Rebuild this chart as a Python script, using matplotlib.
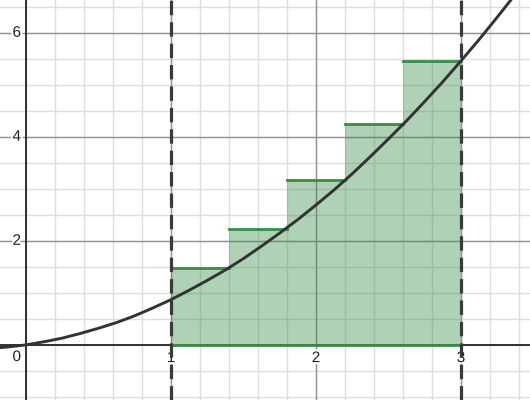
import matplotlib.pyplot as plt
import matplotlib.patheffects as pe
import numpy as np

# curve values
curve_x = [-0.25, -0.125, 0, 0.125, 0.25, 0.375, 0.5, 0.625, 0.75, 0.875, 1,
           1.125, 1.25, 1.375, 1.5, 1.625, 1.75, 1.875, 2, 2.125, 2.25, 2.375,
           2.5, 2.625, 2.75, 2.875, 3, 3.125, 3.25, 3.375, 3.5]
curve_y = [-0.07, -0.04, 0, 0.06, 0.13, 0.22, 0.32, 0.43, 0.56, 0.71, 0.87,
           1.05, 1.24, 1.44, 1.66, 1.90, 2.15, 2.41, 2.69, 2.98, 3.29, 3.62,
           3.96, 4.31, 4.68, 5.06, 5.46, 5.87, 6.30, 6.74, 7.20]

# right-endpoint rectangles
rect_left = [1.0, 1.4, 1.8, 2.2, 2.6]
rect_width = 0.4
rect_height = [1.47, 2.23, 3.17, 4.24, 5.46]

bounds = [1, 3]
x_ticks = [1, 2, 3]
y_ticks = [2, 4, 6]

fig = plt.figure(figsize=(5.3, 4.0), dpi=100)
ax = fig.add_axes([0, 0, 1, 1])
ax.set_xlim(-0.18, 3.476)
ax.set_ylim(-1.06, 6.63)

# grid
for gx in np.arange(-0.2, 3.6, 0.2):
    ax.axvline(gx, color='#dedede', lw=1, zorder=0)
for gy in np.arange(-1.0, 7.0, 0.5):
    ax.axhline(gy, color='#dedede', lw=1, zorder=0)
for t in x_ticks:
    ax.axvline(t, color='#929292', lw=1, zorder=0.5)
for t in y_ticks:
    ax.axhline(t, color='#929292', lw=1, zorder=0.5)
ax.axhline(0, color='#222222', lw=1.3, zorder=1)
ax.axvline(0, color='#222222', lw=1.3, zorder=1)

# rectangles
ax.bar(rect_left, rect_height, width=rect_width, align='edge',
       color='#388c46', alpha=0.4, linewidth=0, zorder=2)
for l, h in zip(rect_left, rect_height):
    ax.plot([l, l + rect_width], [h, h], color='#388c46', lw=2, zorder=3)
ax.plot([rect_left[0], rect_left[-1] + rect_width], [0, 0], color='#388c46', lw=2, zorder=3)

# tick labels
halo = [pe.withStroke(linewidth=3, foreground='white')]
ax.text(-0.035, -0.1, '0', ha='right', va='top', fontsize=11,
        family='Liberation Sans', color='#222222', path_effects=halo, zorder=1.5)
for t in x_ticks:
    ax.text(t, -0.12, str(t), ha='center', va='top', fontsize=11,
            family='Liberation Sans', color='#222222', path_effects=halo, zorder=1.5)
for t in y_ticks:
    ax.text(-0.035, t, str(t), ha='right', va='center', fontsize=11,
            family='Liberation Sans', color='#222222', path_effects=halo, zorder=1.5)

# curve and bounds
ax.plot(curve_x, curve_y, color='#333333', lw=2.1, zorder=4, solid_capstyle='round')
for b in bounds:
    ax.axvline(b, color='#3a3a3a', lw=2.3, dashes=(4.5, 2.2), zorder=5)

ax.axis('off')
fig.savefig('out.png', dpi=100)
